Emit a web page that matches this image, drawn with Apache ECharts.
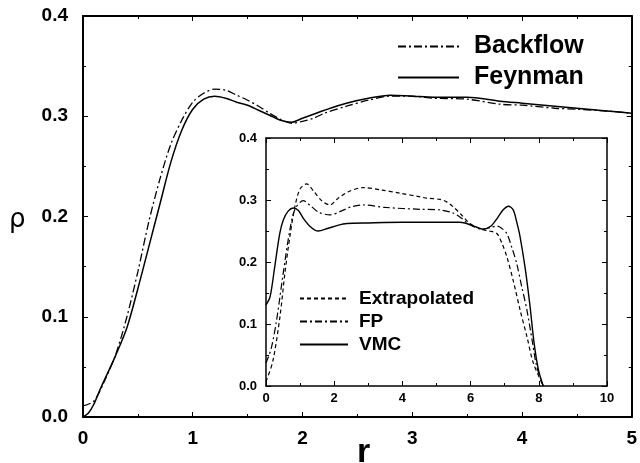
<!DOCTYPE html>
<html>
<head>
<meta charset="utf-8">
<script src="https://cdn.jsdelivr.net/npm/echarts@6/dist/echarts.min.js"></script>
<style>
  html, body { margin: 0; padding: 0; background: #fff; }
  #chart { width: 640px; height: 463px; }
</style>
</head>
<body>
<div id="chart"></div>
<script>
// main panel: density vs r
const backflow = [[0,0.011],[0.1,0.016],[0.2,0.037],[0.3,0.063],[0.4,0.1],[0.5,0.145],[0.6,0.195],[0.7,0.237],[0.8,0.272],[0.9,0.296],[1.0,0.314],[1.1,0.323],[1.2,0.327],[1.3,0.326],[1.4,0.321],[1.5,0.316],[1.6,0.31],[1.7,0.303],[1.8,0.297],[1.9,0.293],[2.0,0.295],[2.1,0.298],[2.2,0.303],[2.4,0.31],[2.6,0.316],[2.8,0.32],[3.0,0.32],[3.2,0.318],[3.5,0.317],[3.8,0.312],[4.0,0.311],[4.3,0.308],[4.5,0.307],[4.8,0.305],[5.0,0.303]];
const feynman = [[0,0],[0.05,0.004],[0.1,0.013],[0.15,0.026],[0.2,0.038],[0.3,0.062],[0.4,0.089],[0.5,0.128],[0.6,0.17],[0.7,0.212],[0.8,0.254],[0.9,0.286],[1.0,0.307],[1.1,0.317],[1.2,0.32],[1.3,0.318],[1.4,0.314],[1.5,0.311],[1.6,0.306],[1.7,0.301],[1.8,0.296],[1.9,0.294],[2.0,0.298],[2.1,0.302],[2.2,0.306],[2.4,0.313],[2.6,0.318],[2.8,0.321],[3.0,0.32],[3.2,0.319],[3.5,0.319],[3.8,0.315],[4.0,0.313],[4.3,0.31],[4.5,0.308],[4.8,0.305],[5.0,0.303]];

// inset
const extrapolated = [[0,0.007],[0.2,0.04],[0.41,0.112],[0.55,0.18],[0.7,0.241],[0.85,0.29],[1.0,0.318],[1.19,0.326],[1.4,0.314],[1.65,0.298],[1.88,0.292],[2.1,0.302],[2.4,0.313],[2.85,0.32],[3.4,0.316],[3.93,0.311],[4.52,0.305],[4.71,0.303],[5.1,0.301],[5.3,0.297],[5.49,0.289],[5.75,0.275],[5.98,0.262],[6.3,0.253],[6.55,0.25],[6.77,0.246],[6.92,0.23],[7.06,0.209],[7.25,0.17],[7.45,0.123],[7.65,0.08],[7.84,0.037],[8.13,0]];
const fp = [[0,0.037],[0.15,0.06],[0.31,0.106],[0.5,0.18],[0.7,0.252],[0.85,0.285],[1.09,0.299],[1.3,0.291],[1.55,0.28],[1.88,0.276],[2.2,0.282],[2.5,0.289],[2.85,0.292],[3.5,0.288],[4.52,0.285],[5.1,0.284],[5.49,0.279],[5.75,0.27],[5.98,0.26],[6.35,0.253],[6.6,0.256],[6.77,0.258],[6.9,0.255],[7.06,0.246],[7.2,0.225],[7.35,0.198],[7.5,0.16],[7.65,0.123],[7.8,0.075],[7.94,0.031],[8.13,0]];
const vmc = [[0,0.131],[0.12,0.144],[0.25,0.19],[0.4,0.245],[0.51,0.268],[0.65,0.282],[0.8,0.287],[0.95,0.283],[1.1,0.27],[1.3,0.257],[1.53,0.25],[1.8,0.254],[2.1,0.259],[2.37,0.262],[3,0.263],[4,0.264],[5,0.264],[5.69,0.264],[6.0,0.26],[6.37,0.253],[6.6,0.258],[6.8,0.272],[6.95,0.284],[7.11,0.29],[7.25,0.284],[7.35,0.265],[7.45,0.241],[7.6,0.19],[7.74,0.13],[7.86,0.07],[7.99,0.026],[8.13,0]];

const font = 'Liberation Sans, Arial, sans-serif';

function axis(gridIndex, pos, min, max, interval, showLabel, size, margin, lineW) {
    return {
        type: 'value',
        gridIndex: gridIndex,
        position: pos,
        min: min,
        max: max,
        interval: interval,
        axisLine: { show: true, onZero: false, lineStyle: { color: '#000', width: lineW } },
        axisTick: { show: true, inside: true, length: 5, lineStyle: { color: '#000', width: 1 } },
        minorTick: { show: true, splitNumber: 2, length: 3, lineStyle: { color: '#000' } },
        splitLine: { show: false },
        axisLabel: {
            show: showLabel,
            color: '#000',
            fontFamily: font,
            fontWeight: 'bold',
            fontSize: size,
            margin: margin,
            formatter: v => (interval < 1 ? v.toFixed(1) : String(v))
        }
    };
}

let chart = echarts.init(document.getElementById('chart'));
let option = {
    animation: false,
    backgroundColor: '#fff',
    grid: [
        { left: 83, top: 16, width: 550, height: 401 },
        { left: 266, top: 138, width: 341, height: 248, show: true, backgroundColor: '#fff', borderWidth: 0, z: 5 }
    ],
    xAxis: [
        axis(0, 'bottom', 0, 5, 1, true, 19, 12, 2),
        axis(0, 'top', 0, 5, 1, false, 19, 12, 2),
        Object.assign(axis(1, 'bottom', 0, 10, 2, true, 13, 6, 1.5), { z: 6 }),
        Object.assign(axis(1, 'top', 0, 10, 2, false, 13, 6, 1.5), { z: 6 })
    ],
    yAxis: [
        axis(0, 'left', 0, 0.4, 0.1, true, 19, 15, 2),
        axis(0, 'right', 0, 0.4, 0.1, false, 19, 15, 2),
        Object.assign(axis(1, 'left', 0, 0.4, 0.1, true, 13, 9, 1.5), { z: 6 }),
        Object.assign(axis(1, 'right', 0, 0.4, 0.1, false, 13, 9, 1.5), { z: 6 })
    ],
    legend: [
        {
            data: ['Backflow', 'Feynman'],
            orient: 'vertical',
            left: 397,
            top: 34,
            padding: 0,
            itemWidth: 61,
            itemHeight: 12,
            itemGap: 6,
            itemStyle: { opacity: 0 },
            textStyle: { fontFamily: font, fontWeight: 'bold', fontSize: 25, color: '#000', padding: [0, 0, 0, 10] }
        },
        {
            data: ['Extrapolated', 'FP', 'VMC'],
            orient: 'vertical',
            left: 299,
            top: 289,
            padding: 0,
            itemWidth: 48,
            itemHeight: 10,
            itemGap: 4,
            z: 8,
            itemStyle: { opacity: 0 },
            textStyle: { fontFamily: font, fontWeight: 'bold', fontSize: 19, color: '#000', padding: [0, 0, 0, 6] }
        }
    ],
    graphic: [
        { type: 'text', left: 9, top: 207, style: { text: 'ρ', font: '26px DejaVu Sans', fill: '#000' } },
        { type: 'text', left: 357, top: 436, style: { text: 'r', font: 'bold 34px Liberation Sans', fill: '#000' } }
    ],
    series: [
        {
            name: 'Backflow', type: 'line', xAxisIndex: 0, yAxisIndex: 0, data: backflow,
            smooth: 0.3, symbol: 'none', lineStyle: { color: '#000', width: 1.3, type: [8, 3, 2, 3] }, itemStyle: { color: '#000' }
        },
        {
            name: 'Feynman', type: 'line', xAxisIndex: 0, yAxisIndex: 0, data: feynman,
            smooth: 0.3, symbol: 'none', lineStyle: { color: '#000', width: 1.5 }, itemStyle: { color: '#000' }
        },
        {
            name: 'Extrapolated', type: 'line', xAxisIndex: 2, yAxisIndex: 2, data: extrapolated, z: 7,
            smooth: 0.3, symbol: 'none', lineStyle: { color: '#000', width: 1.2, type: [4, 3] }, itemStyle: { color: '#000' }
        },
        {
            name: 'FP', type: 'line', xAxisIndex: 2, yAxisIndex: 2, data: fp, z: 7,
            smooth: 0.3, symbol: 'none', lineStyle: { color: '#000', width: 1.2, type: [7, 3, 2, 3] }, itemStyle: { color: '#000' }
        },
        {
            name: 'VMC', type: 'line', xAxisIndex: 2, yAxisIndex: 2, data: vmc, z: 7,
            smooth: 0.3, symbol: 'none', lineStyle: { color: '#000', width: 1.4 }, itemStyle: { color: '#000' }
        }
    ]
};
chart.setOption(option);
</script>
</body>
</html>
